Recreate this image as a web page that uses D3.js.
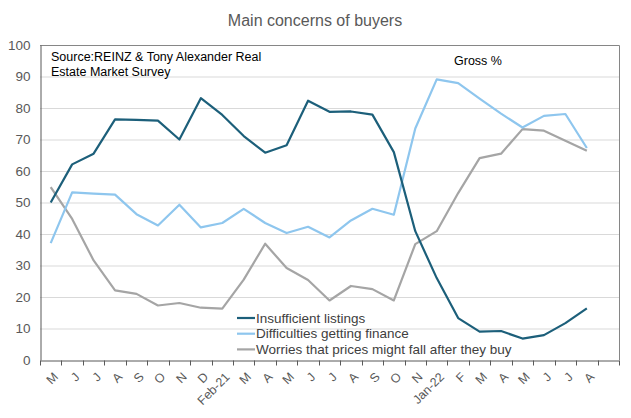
<!DOCTYPE html>
<html>
<head>
<meta charset="utf-8">
<script src="https://cdn.jsdelivr.net/npm/d3@7"></script>
<style>
  html, body { margin: 0; padding: 0; background: #fff; }
  text { font-family: "Liberation Sans", Arial, sans-serif; }
</style>
</head>
<body>
<svg id="chart" width="631" height="418"></svg>
<script>
const monthLabels = ["M","J","J","A","S","O","N","D","Feb-21","M","A","M","J","J","A","S","O","N","Jan-22","F","M","A","M","J","J","A",""];
const insufficientListings = [50.0, 62.1, 65.5, 76.4, 76.2, 76.0, 70.0, 83.1, 77.8, 71.1, 65.8, 68.2, 82.3, 78.8, 78.9, 77.9, 66.0, 40.9, 26.0, 13.3, 9.0, 9.2, 6.8, 7.9, 11.7, 16.4];
const difficultiesFinance = [37.1, 53.2, 52.8, 52.5, 46.3, 42.7, 49.3, 42.1, 43.5, 48.0, 43.5, 40.3, 42.3, 38.9, 44.3, 48.0, 46.1, 73.5, 89.1, 87.9, 83.0, 78.2, 73.8, 77.5, 78.1, 67.3];
const worriesPricesFall = [54.9, 44.8, 31.6, 22.1, 21.0, 17.3, 18.1, 16.6, 16.3, 25.5, 36.9, 29.2, 25.4, 18.9, 23.5, 22.5, 18.9, 36.8, 40.9, 53.0, 64.1, 65.5, 73.3, 72.8, 69.6, 66.4];
const yTicks = [0,10,20,30,40,50,60,70,80,90,100];
const seriesNames = ["Insufficient listings", "Difficulties getting finance", "Worries that prices might fall after they buy"];
const seriesColors = ["#1c5f7a", "#8ec6ee", "#a5a5a5"];

const svg = d3.select("#chart");
const L = 40, R = 619, T = 45, B = 360;
const idx = d3.range(monthLabels.length);
const x = d3.scaleBand().domain(idx).range([L, R]).padding(0);
const y = d3.scaleLinear().domain([0, 100]).range([B, T]);

// title
svg.append("text").attr("x", 315).attr("y", 26).attr("text-anchor", "middle")
  .attr("font-size", 16).attr("fill", "#595959").text("Main concerns of buyers");

// gridlines
svg.append("g").selectAll("line").data(yTicks.filter(d => d > 0 && d < 100)).join("line")
  .attr("x1", L).attr("x2", R).attr("y1", d => y(d) + 0.5).attr("y2", d => y(d) + 0.5)
  .attr("stroke", "#d9d9d9").attr("stroke-width", 1);

// plot border top/right
svg.append("path").attr("d", `M${L},${y(100)+0.5}H${R+0.5}V${B}`)
  .attr("fill", "none").attr("stroke", "#868686").attr("stroke-width", 1);

// y axis
const yAxis = d3.axisLeft(y).tickValues(yTicks).tickSize(0).tickPadding(10);
const gy = svg.append("g").attr("transform", `translate(${L + 0.5},0)`).call(yAxis);
gy.select(".domain").attr("stroke", "#595959");
gy.selectAll("text").attr("font-size", 13.5).attr("fill", "#595959")
  .attr("font-family", "'Liberation Sans', Arial, sans-serif");

// x axis
const xAxis = d3.axisBottom(x).tickSize(0).tickFormat(i => monthLabels[i]);
const gx = svg.append("g").attr("transform", `translate(0,${B + 0.5})`).call(xAxis);
gx.select(".domain").attr("stroke", "#595959");
gx.selectAll(".tick text")
  .attr("font-size", 12.5).attr("fill", "#595959")
  .attr("font-family", "'Liberation Sans', Arial, sans-serif")
  .attr("text-anchor", "end")
  .attr("dy", "0.35em")
  .attr("transform", "translate(3,12) rotate(-45)");
// tick marks at category boundaries
const boundaries = idx.map(i => x(i)).concat([R]);
gx.append("g").selectAll("line").data(boundaries).join("line")
  .attr("x1", d => Math.round(d) + 0.5).attr("x2", d => Math.round(d) + 0.5)
  .attr("y1", 0).attr("y2", 5).attr("stroke", "#595959");

// lines
const allSeries = [insufficientListings, difficultiesFinance, worriesPricesFall];
const line = d3.line().x((d, i) => x(i) + x.bandwidth() / 2).y(d => y(d));
[2, 1, 0].forEach(s => {
  svg.append("path").datum(allSeries[s]).attr("d", line)
    .attr("fill", "none").attr("stroke", seriesColors[s]).attr("stroke-width", 2.2)
    .attr("stroke-linejoin", "round");
});

// source text
const src = svg.append("text").attr("x", 51).attr("font-size", 12.5).attr("fill", "#000");
src.append("tspan").attr("x", 51).attr("y", 61).text("Source:REINZ & Tony Alexander Real");
src.append("tspan").attr("x", 51).attr("y", 76).text("Estate Market Survey");

svg.append("text").attr("x", 454).attr("y", 65).attr("font-size", 12.5).attr("fill", "#000").text("Gross %");

// legend
const lg = svg.append("g");
seriesNames.forEach((n, i) => {
  const cy = 318 + i * 15.7;
  lg.append("line").attr("x1", 237).attr("x2", 255).attr("y1", cy).attr("y2", cy)
    .attr("stroke", seriesColors[i]).attr("stroke-width", 2.2);
  lg.append("text").attr("x", 256).attr("y", cy).attr("dy", "0.35em")
    .attr("font-size", 13.5).attr("fill", "#404040").text(n);
});
</script>
</body>
</html>
